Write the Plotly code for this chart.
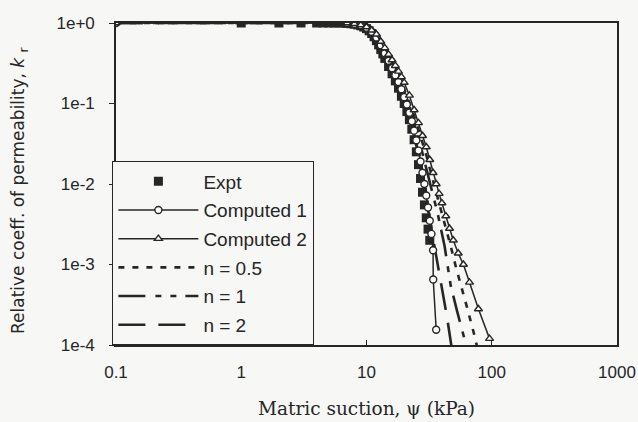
import plotly.graph_objects as go

# ---------------- data ----------------
expt_psi = [1, 2, 3, 4, 4.5, 5, 5.5, 6, 6.5, 7, 7.5, 8, 8.5, 9, 9.5, 10, 10.5, 11, 11.5,
            12, 12.5, 13, 13.5, 14, 15, 16, 17, 18, 19, 20, 21, 22, 23, 24, 25, 26,
            27, 28, 29, 30, 31, 32]
expt_k = [1, 1, 1, 1, 1, 1, 1, 1, 1, 0.989, 0.98, 0.966, 0.948, 0.923, 0.89, 0.851, 0.8,
          0.741, 0.675, 0.603, 0.535, 0.468, 0.413, 0.363, 0.288, 0.234, 0.191, 0.155,
          0.123, 0.1, 0.0794, 0.063, 0.0479, 0.0355, 0.0251, 0.0174, 0.0117, 0.0079,
          0.0055, 0.0038, 0.00275, 0.002]

c1_psi = [0.1, 7, 8, 9, 10, 11, 12, 13, 14, 15, 16, 17, 18, 19, 20, 21, 22, 23, 24, 25,
          26, 27, 28, 29, 30, 31, 32, 33, 34, 34.1, 36]
c1_k = [1, 1, 0.975, 0.94, 0.875, 0.78, 0.66, 0.53, 0.42, 0.34, 0.275, 0.225, 0.185,
        0.15, 0.12, 0.097, 0.077, 0.06, 0.046, 0.035, 0.026, 0.019, 0.0138, 0.01,
        0.0072, 0.0051, 0.0035, 0.0024, 0.0015, 0.00065, 0.000155]

c2_psi = [0.1, 7, 8, 9, 10, 11, 12, 13, 14, 15, 16, 17, 18, 19, 20, 22, 24, 26, 28, 30,
          32, 34, 36, 38, 40, 43, 46, 49.3, 54, 59.4, 66.4, 78.3, 96]
c2_k = [1, 1, 0.977, 0.944, 0.891, 0.813, 0.724, 0.589, 0.49, 0.407, 0.347, 0.295,
        0.251, 0.214, 0.182, 0.126, 0.083, 0.0575, 0.0398, 0.0288, 0.02, 0.0138, 0.01,
        0.0076, 0.0058, 0.004, 0.0028, 0.002, 0.00138, 0.001, 0.0006, 0.00028, 0.00012]

n05_psi = [0.1, 7, 9, 11, 13, 15, 17, 19, 21, 23, 25, 27, 30, 33, 37, 42, 47, 52, 57, 64, 72, 80]
n05_k = [1, 1, 0.95, 0.8, 0.57, 0.39, 0.27, 0.185, 0.125, 0.085, 0.058, 0.04, 0.023,
         0.013, 0.0068, 0.0033, 0.0017, 0.0009, 0.00055, 0.00028, 0.00014, 0.00007]

n1_psi = [0.1, 7, 9, 11, 13, 15, 17, 19, 21, 23, 25, 27, 30, 33, 37, 42, 47, 53, 60, 68]
n1_k = [1, 1, 0.94, 0.78, 0.54, 0.36, 0.24, 0.16, 0.105, 0.07, 0.046, 0.03, 0.016,
        0.0085, 0.0043, 0.0017, 0.00055, 0.00026, 0.00013, 0.00006]

n2_psi = [0.1, 7, 9, 11, 13, 15, 17, 19, 21, 23, 25, 27, 29, 31, 33, 36, 40, 44, 48]
n2_k = [1, 1, 0.93, 0.76, 0.5, 0.31, 0.2, 0.13, 0.085, 0.052, 0.03, 0.016, 0.0085,
        0.0048, 0.0028, 0.0014, 0.00055, 0.00022, 0.00009]

x_tickvals = [0.1, 1, 10, 100, 1000]
x_ticktext = ["0.1", "1", "10", "100", "1000"]
y_tickvals = [1, 0.1, 0.01, 0.001, 0.0001]
y_ticktext = ["1e+0", "1e-1", "1e-2", "1e-3", "1e-4"]

# ---------------- style ----------------
INK = "#262626"
BG = "#f7f7f5"
SANS = "Liberation Sans, Arial, sans-serif"
WIDE_SANS = "DejaVu Sans, sans-serif"
SERIF = "DejaVu Serif, serif"

fig = go.Figure()

fig.add_trace(go.Scatter(
    x=expt_psi, y=expt_k, mode="markers", name="Expt", legendgroup="a", legendrank=1,
    marker=dict(symbol="square", size=9, color=INK, line=dict(width=0))))

fig.add_trace(go.Scatter(
    x=n05_psi, y=n05_k, mode="lines", name="n = 0.5", legendgroup="d", legendrank=4,
    line=dict(color=INK, width=2.6, dash="6px,8px")))
fig.add_trace(go.Scatter(
    x=n1_psi, y=n1_k, mode="lines", name="n = 1", legendgroup="e", legendrank=5,
    line=dict(color=INK, width=2.6, dash="27px,10px,6px,9px,6px,9px")))
fig.add_trace(go.Scatter(
    x=n2_psi, y=n2_k, mode="lines", name="n = 2", legendgroup="f", legendrank=6,
    line=dict(color=INK, width=2.6, dash="27px,13px")))

fig.add_trace(go.Scatter(
    x=c1_psi, y=c1_k, mode="lines+markers", name="Computed 1", legendgroup="b",
    legendrank=2, line=dict(color=INK, width=1.5),
    marker=dict(symbol="circle", size=7, color="white", line=dict(color=INK, width=1.4))))
fig.add_trace(go.Scatter(
    x=c2_psi, y=c2_k, mode="lines+markers", name="Computed 2", legendgroup="c",
    legendrank=3, line=dict(color=INK, width=1.5),
    marker=dict(symbol="triangle-up", size=7, color="white", line=dict(color=INK, width=1.4))))

axis_common = dict(
    showgrid=False, zeroline=False, showline=True, linecolor=INK, linewidth=1.6,
    mirror=True, tickcolor=INK, tickwidth=1.2, ticklabeloverflow="allow",
    automargin=False,
    tickfont=dict(family=SANS, size=17, color=INK),
)

fig.update_xaxes(type="log", range=[-1, 3], tickvals=x_tickvals, ticktext=x_ticktext,
                 ticks="inside", ticklen=5, ticklabelstandoff=11, **axis_common)
fig.update_yaxes(type="log", range=[-4, 0], tickvals=y_tickvals, ticktext=y_ticktext,
                 ticks="outside", ticklen=5, ticklabelstandoff=11, **axis_common)

fig.add_annotation(
    text="Matric suction, ψ (kPa)", xref="paper", yref="paper",
    x=0.5, y=0, yshift=-63, xanchor="center", yanchor="middle", showarrow=False,
    font=dict(family=SERIF, size=18.5, color=INK))
fig.add_annotation(
    text="Relative coeff. of permeability, <i>k</i> <sub>r</sub>",
    xref="paper", yref="paper", x=0, xshift=-97, y=0.5, yshift=-7, xanchor="center",
    yanchor="middle", textangle=-90, showarrow=False,
    font=dict(family=WIDE_SANS, size=17, color=INK))

fig.update_layout(
    width=638, height=422,
    margin=dict(l=116, r=21, t=23, b=77, autoexpand=False),
    paper_bgcolor=BG, plot_bgcolor=BG,
    showlegend=True,
    legend=dict(
        x=-0.008, y=0, xanchor="left", yanchor="bottom",
        bgcolor=BG, bordercolor=INK, borderwidth=1.4,
        font=dict(family=SANS, size=19, color=INK),
        tracegroupgap=1, itemwidth=80, traceorder="grouped",
    ),
)

# remove the page's default body margin so the 638x422 figure fills the window
fig.write_html("out.html", config={"displayModeBar": False},
               post_script="document.body.style.margin='0px';")
